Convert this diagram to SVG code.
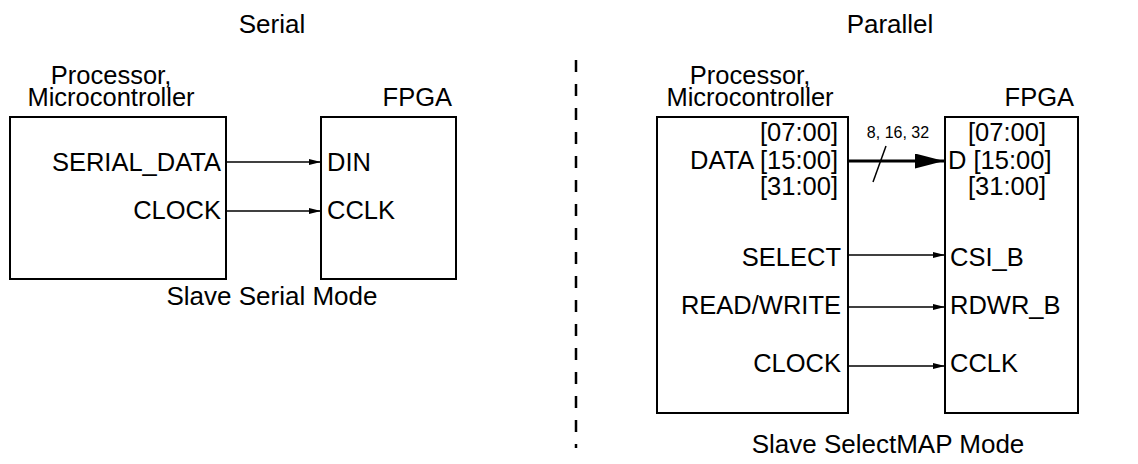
<svg xmlns="http://www.w3.org/2000/svg" width="1138" height="464" viewBox="0 0 1138 464">
  <style>
    text { font-family: "Liberation Sans", Arial, Helvetica, sans-serif; fill: #000; }
    .lbl { font-size: 25.5px; }
    .ttl { font-size: 26px; }
    .small { font-size: 16px; }
    .box { fill: #fff; stroke: #000; stroke-width: 2; }
    .wire { stroke: #000; stroke-width: 1.3; fill: none; }
    .bus { stroke: #000; stroke-width: 3; fill: none; }
    .end { text-anchor: end; }
    .mid { text-anchor: middle; }
  </style>
  <defs>
    <marker id="arrow" viewBox="0 0 12 6" refX="12" refY="3" markerWidth="12" markerHeight="6" markerUnits="userSpaceOnUse" orient="auto">
      <path d="M0,0 L12,3 L0,6 z" fill="#000"/>
    </marker>
    <marker id="busArrow" viewBox="0 0 29 15" refX="29" refY="7.5" markerWidth="29" markerHeight="15" markerUnits="userSpaceOnUse" orient="auto">
      <path d="M0,0 L29,7.5 L0,15 z" fill="#000"/>
    </marker>
  </defs>

  <!-- section titles -->
  <text class="ttl mid" x="272" y="33">Serial</text>
  <text class="ttl mid" x="890" y="33">Parallel</text>

  <!-- divider -->
  <line x1="576" y1="60" x2="576" y2="448" stroke="#000" stroke-width="2.5" stroke-dasharray="12,12"/>

  <!-- Slave Serial: processor -->
  <g id="serial-processor">
    <text class="lbl mid" x="111" y="84">Processor,</text>
    <text class="lbl mid" x="111" y="106">Microcontroller</text>
    <rect class="box" x="10" y="117" width="216" height="162"/>
    <text class="lbl end" x="221" y="171">SERIAL_DATA</text>
    <text class="lbl end" x="221" y="219">CLOCK</text>
  </g>

  <!-- Slave Serial: FPGA -->
  <g id="serial-fpga">
    <text class="lbl end" x="452" y="106">FPGA</text>
    <rect class="box" x="321" y="117" width="135" height="162"/>
    <text class="lbl" x="327" y="171">DIN</text>
    <text class="lbl" x="327" y="219">CCLK</text>
  </g>

  <text class="ttl mid" x="272" y="305">Slave Serial Mode</text>

  <!-- Slave SelectMAP: processor -->
  <g id="map-processor">
    <text class="lbl mid" x="750" y="84">Processor,</text>
    <text class="lbl mid" x="750" y="106">Microcontroller</text>
    <rect class="box" x="657" y="117" width="191" height="296"/>
    <text class="lbl end" x="838" y="141">[07:00]</text>
    <text class="lbl end" x="838" y="169">DATA [15:00]</text>
    <text class="lbl end" x="838" y="195">[31:00]</text>
    <text class="lbl end" x="841" y="266">SELECT</text>
    <text class="lbl end" x="841" y="314">READ/WRITE</text>
    <text class="lbl end" x="841" y="372">CLOCK</text>
  </g>

  <!-- Slave SelectMAP: FPGA -->
  <g id="map-fpga">
    <text class="lbl end" x="1074" y="106">FPGA</text>
    <rect class="box" x="945" y="117" width="133" height="296"/>
    <text class="lbl" x="968" y="141">[07:00]</text>
    <text class="lbl" x="948" y="169">D [15:00]</text>
    <text class="lbl" x="968" y="195">[31:00]</text>
    <text class="lbl" x="950" y="266">CSI_B</text>
    <text class="lbl" x="950" y="314">RDWR_B</text>
    <text class="lbl" x="950" y="372">CCLK</text>
  </g>

  <text class="ttl mid" x="888" y="453">Slave SelectMAP Mode</text>

  <!-- connectors -->
  <g id="connectors">
    <line class="wire" x1="226" y1="162" x2="321" y2="162" marker-end="url(#arrow)"/>
    <line class="wire" x1="226" y1="211" x2="321" y2="211" marker-end="url(#arrow)"/>
    <line class="bus" x1="848" y1="161" x2="944" y2="161" marker-end="url(#busArrow)"/>
    <line stroke="#000" stroke-width="1.5" x1="886" y1="146" x2="873" y2="182"/>
    <text class="small mid" x="898" y="138">8, 16, 32</text>
    <line class="wire" x1="848" y1="255" x2="945" y2="255" marker-end="url(#arrow)"/>
    <line class="wire" x1="848" y1="307" x2="945" y2="307" marker-end="url(#arrow)"/>
    <line class="wire" x1="848" y1="366" x2="945" y2="366" marker-end="url(#arrow)"/>
  </g>
</svg>
